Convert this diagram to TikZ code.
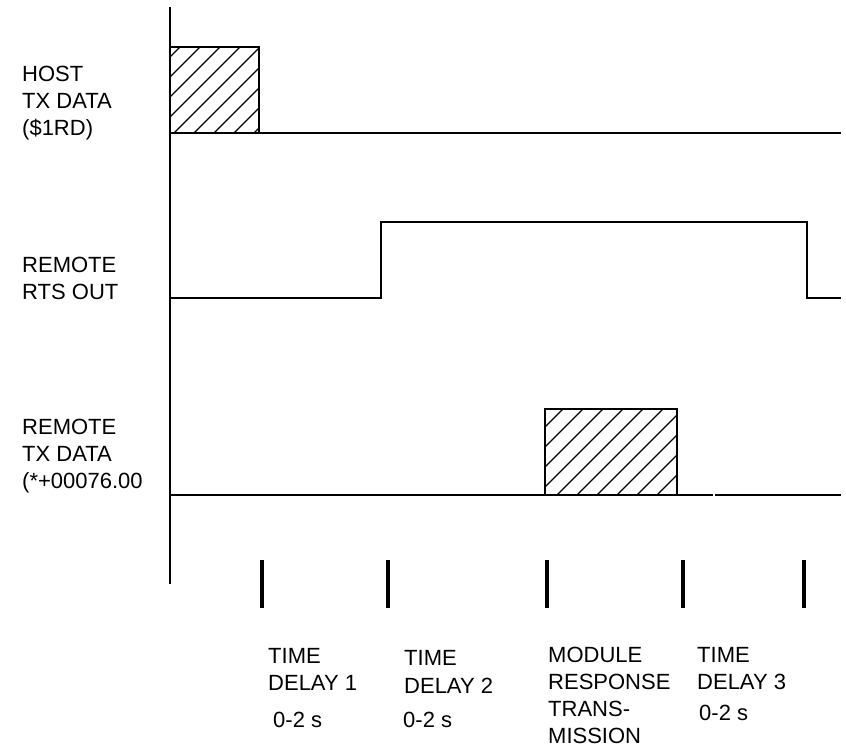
\documentclass[tikz,border=0pt]{standalone}
\usepackage{fontspec}
\setmainfont{Liberation Sans}
\begin{document}
\begin{tikzpicture}[x=1pt,y=-1pt,
  sig/.style={line width=2pt, line cap=rect},
  tickmark/.style={line width=3.2pt},
  hatchline/.style={line width=1.3pt},
  lbl/.style={anchor=base west, inner sep=0pt, font=\fontsize{22}{27}\selectfont}]
\useasboundingbox (0,0) rectangle (846,749);
% axis
\coordinate (axT) at (170,8);
\coordinate (axB) at (170,583);
\draw[sig] (axT) -- (axB);

% ---------- HOST TX DATA ----------
\coordinate (h0) at (170,133);
\coordinate (h1) at (170,47);
\coordinate (h2) at (259,47);
\coordinate (h3) at (259,133);
\coordinate (hE) at (840,133);
\begin{scope}
  \clip (170,47) rectangle (259,133);
  \foreach \c in {180,200,...,360} \draw[hatchline] (\c,47) -- (\c-100,147);
\end{scope}
\draw[sig] (h0) -- (h1) -- (h2) -- (h3);
\draw[sig] (h0) -- (hE);

% ---------- REMOTE RTS OUT ----------
\coordinate (r0) at (170,298);
\coordinate (r1) at (381,298);
\coordinate (r2) at (381,222);
\coordinate (r3) at (807,222);
\coordinate (r4) at (807,298);
\coordinate (r5) at (840,298);
\draw[sig] (r0) -- (r1) -- (r2) -- (r3) -- (r4) -- (r5);

% ---------- REMOTE TX DATA ----------
\coordinate (t0) at (170,495);
\coordinate (t1) at (712,495);
\coordinate (t2) at (716,495);
\coordinate (t3) at (840,495);
\coordinate (b1) at (545,495);
\coordinate (b2) at (545,409);
\coordinate (b3) at (677,409);
\coordinate (b4) at (677,495);
\begin{scope}
  \clip (545,409) rectangle (677,495);
  \foreach \c in {563,583,...,783} \draw[hatchline] (\c,409) -- (\c-100,509);
\end{scope}
\draw[sig] (b1) -- (b2) -- (b3) -- (b4);
\draw[sig] (t0) -- (t1);
\draw[sig] (t2) -- (t3);

% ---------- time ticks ----------
\foreach \n/\x in {k1/262,k2/388,k3/547,k4/683,k5/804}{
  \coordinate (\n a) at (\x,560);
  \coordinate (\n b) at (\x,608);
  \draw[tickmark] (\n a) -- (\n b);
}

% ---------- left labels ----------
\node[lbl] (hl1) at (22,82) {HOST};
\node[lbl] (hl2) at (22,109) {TX DATA};
\node[lbl] (hl3) at (22,136) {(\$1RD)};
\node[lbl] (rl1) at (22,272) {REMOTE};
\node[lbl] (rl2) at (22,299) {RTS OUT};
\node[lbl] (tl1) at (22,434) {REMOTE};
\node[lbl] (tl2) at (22,461) {TX DATA};
\node[lbl] (tl3) at (22,488) {(*+00076.00};

% ---------- bottom labels ----------
\node[lbl] (d1a) at (268,663) {TIME};
\node[lbl] (d1b) at (268,690) {DELAY 1};
\node[lbl] (d1c) at (273,727) {0-2 s};
\node[lbl] (d2a) at (404,665) {TIME};
\node[lbl] (d2b) at (404,693) {DELAY 2};
\node[lbl] (d2c) at (403,727) {0-2 s};
\node[lbl] (m1) at (548,662) {MODULE};
\node[lbl] (m2) at (548,689) {RESPONSE};
\node[lbl] (m3) at (548,716) {TRANS-};
\node[lbl] (m4) at (548,743) {MISSION};
\node[lbl] (d3a) at (697,662) {TIME};
\node[lbl] (d3b) at (697,689) {DELAY 3};
\node[lbl] (d3c) at (699,720) {0-2 s};
\end{tikzpicture}
\end{document}
